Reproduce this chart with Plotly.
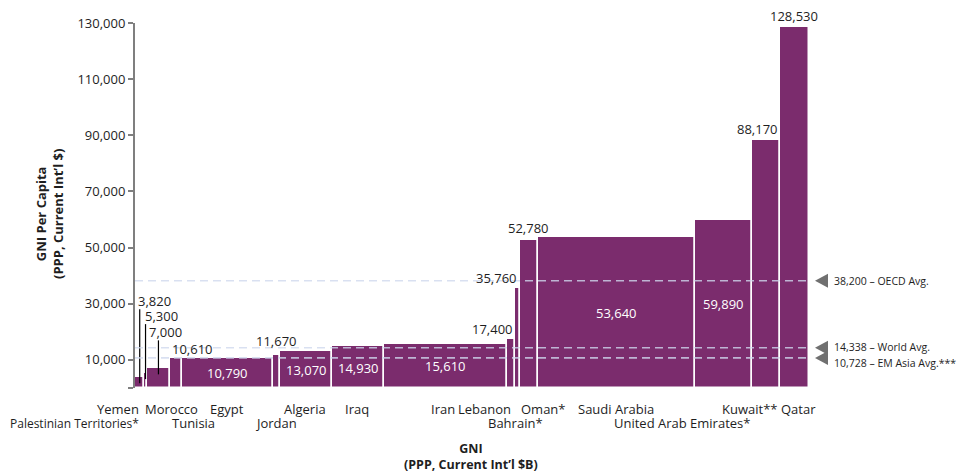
import plotly.graph_objects as go

# ---- data -----------------------------------------------------------------
countries = ["Yemen", "Palestinian Territories*", "Morocco", "Tunisia", "Egypt",
             "Jordan", "Algeria", "Iraq", "Iran", "Lebanon", "Bahrain*", "Oman*",
             "Saudi Arabia", "United Arab Emirates*", "Kuwait**", "Qatar"]
gni_per_capita = [3820, 5300, 7000, 10610, 10790, 11670, 13070, 14930, 15610,
                  17400, 35760, 52780, 53640, 59890, 88170, 128530]
gni_total_bn = [91, 21, 228, 115, 871, 74, 503, 493, 1190, 77, 47, 174, 1518,
                545, 275, 275]

avg_values = [38200, 14338, 10728]
avg_labels = ["38,200 – OECD Avg.", "14,338 – World Avg.", "10,728 – EM Asia Avg.***"]

y_tickvals = [0, 10000, 30000, 50000, 70000, 90000, 110000, 130000]
y_ticktext = ["", "10,000", "30,000", "50,000", "70,000", "90,000", "110,000", "130,000"]

# ---- styling --------------------------------------------------------------
FONT = "Open Sans"
PURPLE = "#7B2C6D"
TEXT = "#1e1e1e"
W, H = 967, 472
M_L, M_R, M_T, M_B = 135, 158, 23, 84
Y_MAX = 130000
PLOT_H = H - M_T - M_B
UNITS_PER_PX = Y_MAX / PLOT_H

# value label placement: (mode, reference edge, xanchor, xshift, yshift)
value_label_style = [
    ("leader", "c", "left", -2, 76),
    ("leader", "c", "left", -1, 57),
    ("leader", "l", "left", 2, 36),
    ("above", "l", "left", 2, 9),
    ("inside", "c", "center", 0, 0),
    ("above", "c", "center", 0, 14),
    ("inside", "c", "center", 0, 0),
    ("inside", "c", "center", 1, -1),
    ("inside", "c", "center", 0, 0),
    ("above", "c", "right", 2, 10),
    ("above", "c", "right", 0, 10),
    ("above", "c", "center", 0, 12),
    ("inside", "c", "center", 0, 0),
    ("inside", "c", "center", 0, 0),
    ("above", "r", "right", -2, 11),
    ("above", "c", "center", -1, 11),
]
# category label placement: (row, reference edge, xanchor, xshift, font size)
cat_label_style = [
    (1, "c", "right", -1, 13), (2, "c", "right", -7, 12), (1, "l", "left", -2, 13),
    (2, "l", "left", 2, 13), (1, "c", "center", 0, 13), (2, "c", "center", 0, 13),
    (1, "c", "center", -1, 13), (1, "c", "center", -1, 13), (1, "c", "center", -2, 13),
    (1, "c", "right", 0, 13), (2, "c", "center", -2, 13), (1, "l", "left", 1, 13),
    (1, "c", "center", -1, 13), (2, "r", "right", -2, 13), (1, "r", "right", -3, 13),
    (1, "c", "center", 4, 13),
]

# ---- geometry from the GNI widths ------------------------------------------
lefts, centers, rights = [], [], []
acc = 0
for w in gni_total_bn:
    lefts.append(acc)
    centers.append(acc + w / 2)
    rights.append(acc + w)
    acc += w
total = acc
edge = {"l": lefts, "c": centers, "r": rights}

fig = go.Figure()
fig.add_trace(go.Bar(
    x=centers, y=gni_per_capita, width=gni_total_bn,
    marker=dict(color=PURPLE, line=dict(color="white", width=1.5)),
    hoverinfo="skip", showlegend=False,
))

annotations = []
shapes = []

# value labels
for i, (val, st) in enumerate(zip(gni_per_capita, value_label_style)):
    mode, ref, xa, xs, ys = st
    txt = f"{val:,}"
    if mode == "inside":
        annotations.append(dict(x=edge[ref][i], y=val / 2, xref="x", yref="y",
                                text=txt, showarrow=False, xanchor=xa, yanchor="middle",
                                xshift=xs, yshift=ys,
                                font=dict(family=FONT, size=13, color="white")))
    else:
        annotations.append(dict(x=edge[ref][i], y=val, xref="x", yref="y",
                                text=txt, showarrow=False, xanchor=xa, yanchor="middle",
                                xshift=xs, yshift=ys,
                                font=dict(family=FONT, size=13, color=TEXT)))
        if mode == "leader":
            shapes.append(dict(type="line", xref="x", yref="y",
                               x0=centers[i], x1=centers[i],
                               y0=val - 6 * UNITS_PER_PX,
                               y1=val + (ys - 8) * UNITS_PER_PX,
                               line=dict(color="black", width=1.2), layer="above"))

# category labels below the bars
for i, (name, st) in enumerate(zip(countries, cat_label_style)):
    row, ref, xa, xs, fs = st
    annotations.append(dict(x=edge[ref][i], y=0, xref="x", yref="paper",
                            text=name, showarrow=False, xanchor=xa, yanchor="middle",
                            xshift=xs, yshift=-21 if row == 1 else -35,
                            font=dict(family=FONT, size=fs, color=TEXT)))

# benchmark averages: dashed rules, pointer triangles and labels
apex_x = (815 - M_L) / (W - M_L - M_R)
base_x = (828 - M_L) / (W - M_L - M_R)
text_x = (834 - M_L) / (W - M_L - M_R)
half_h = 7 * UNITS_PER_PX
avg_text_shift = [0, 1, -5]
for v, lab, ysh in zip(avg_values, avg_labels, avg_text_shift):
    shapes.append(dict(type="line", xref="x", yref="y", x0=0, x1=total, y0=v, y1=v,
                       line=dict(color="rgba(208,216,238,0.8)", width=1.7, dash="8px,5px"),
                       layer="above"))
    shapes.append(dict(type="path", xref="paper", yref="y",
                       path=f"M {apex_x},{v} L {base_x},{v + half_h} L {base_x},{v - half_h} Z",
                       fillcolor="#707070", line=dict(width=0), layer="above"))
    annotations.append(dict(x=text_x, y=v, xref="paper", yref="y", text=lab,
                            showarrow=False, xanchor="left", yanchor="middle", yshift=ysh,
                            font=dict(family=FONT, size=10.5, color=TEXT)))

# axis titles
annotations.append(dict(
    x=(50 - M_L) / (W - M_L - M_R), y=(H - M_B - 214) / PLOT_H,
    xref="paper", yref="paper", textangle=-90, showarrow=False,
    text="<b>GNI Per Capita</b><br><b>(PPP, Current Int’l $)</b>",
    xanchor="center", yanchor="middle",
    font=dict(family=FONT, size=13, color=TEXT)))
annotations.append(dict(
    x=(471 - M_L) / (W - M_L - M_R), y=(H - M_B - 456) / PLOT_H,
    xref="paper", yref="paper", showarrow=False,
    text="<b>GNI</b><br><b>(PPP, Current Int’l $B)</b>",
    xanchor="center", yanchor="middle",
    font=dict(family=FONT, size=12.5, color=TEXT)))

for a in annotations:
    a.setdefault("borderpad", 0)
    a.setdefault("borderwidth", 0)

fig.update_layout(
    width=W, height=H,
    margin=dict(l=M_L, r=M_R, t=M_T, b=M_B, pad=0),
    paper_bgcolor="white", plot_bgcolor="white",
    bargap=0,
    font=dict(family=FONT, size=13, color=TEXT),
    xaxis=dict(range=[0, total], visible=False, fixedrange=True),
    yaxis=dict(range=[0, Y_MAX], tickvals=y_tickvals, ticktext=y_ticktext,
               ticks="outside", ticklen=5, tickwidth=1.5, tickcolor="#7f7f7f",
               showline=True, linecolor="#7f7f7f", linewidth=2,
               showgrid=False, zeroline=False,
               tickfont=dict(family=FONT, size=13, color=TEXT)),
    annotations=annotations,
    shapes=shapes,
)

fig.write_html("out.html")
